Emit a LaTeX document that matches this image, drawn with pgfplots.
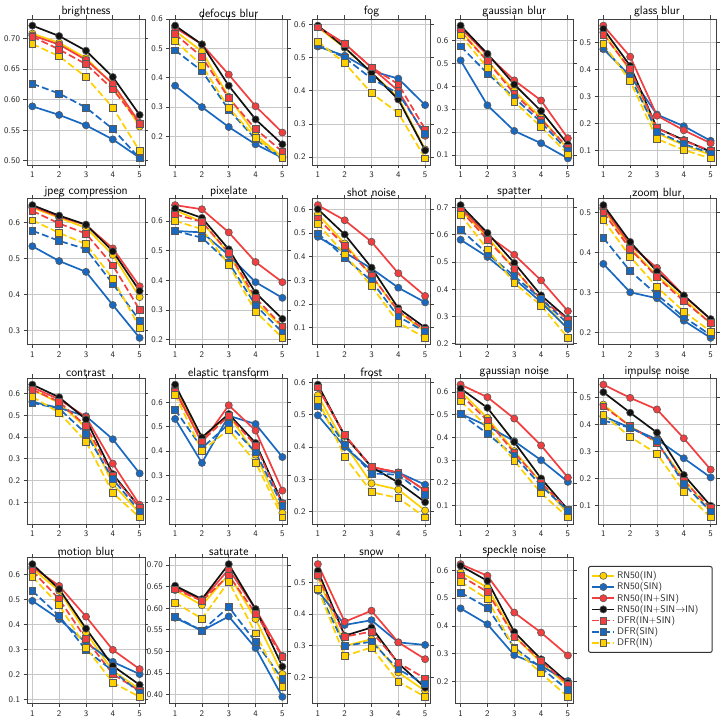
\documentclass[border=0pt]{standalone}
\usepackage{pgfplots}
\usepackage{pgfplotstable}
\pgfplotsset{compat=1.18}
\definecolor{cy}{RGB}{255,208,0}
\definecolor{cb}{RGB}{24,104,192}
\definecolor{cr}{RGB}{242,62,62}
\definecolor{ck}{RGB}{18,18,18}
\newcommand{\legtxt}[1]{\makebox[90pt][l]{#1}}

\pgfplotstableread{
x Y B R K RS BS YS
1 0.708 0.589 0.705 0.721 0.703 0.626 0.691
2 0.693 0.575 0.690 0.704 0.682 0.610 0.671
3 0.668 0.558 0.665 0.680 0.658 0.587 0.637
4 0.625 0.535 0.626 0.637 0.617 0.552 0.587
5 0.556 0.505 0.562 0.575 0.561 0.504 0.516
}\tbright
\pgfplotstableread{
x Y B R K RS BS YS
1 0.560 0.373 0.571 0.578 0.549 0.494 0.526
2 0.490 0.300 0.514 0.514 0.471 0.423 0.442
3 0.335 0.232 0.411 0.373 0.331 0.291 0.297
4 0.205 0.173 0.303 0.258 0.225 0.190 0.196
5 0.130 0.127 0.213 0.173 0.148 0.125 0.127
}\tdefocus
\pgfplotstableread{
x Y B R K RS BS YS
1 0.592 0.534 0.594 0.597 0.592 0.540 0.549
2 0.530 0.506 0.543 0.531 0.541 0.500 0.484
3 0.455 0.460 0.470 0.455 0.471 0.437 0.393
4 0.380 0.437 0.400 0.374 0.420 0.392 0.333
5 0.223 0.357 0.264 0.220 0.284 0.269 0.196
}\tfog
\pgfplotstableread{
x Y B R K RS BS YS
1 0.644 0.513 0.655 0.665 0.638 0.575 0.623
2 0.510 0.317 0.536 0.542 0.510 0.456 0.481
3 0.380 0.205 0.426 0.408 0.367 0.350 0.333
4 0.263 0.151 0.338 0.292 0.256 0.243 0.222
5 0.125 0.085 0.173 0.146 0.132 0.117 0.103
}\tgblur
\pgfplotstableread{
x Y B R K RS BS YS
1 0.537 0.475 0.562 0.550 0.529 0.481 0.494
2 0.394 0.376 0.447 0.413 0.401 0.372 0.357
3 0.164 0.233 0.229 0.183 0.183 0.170 0.143
4 0.120 0.190 0.175 0.139 0.136 0.124 0.102
5 0.084 0.136 0.127 0.096 0.100 0.090 0.071
}\tglass
\pgfplotstableread{
x Y B R K RS BS YS
1 0.641 0.534 0.644 0.648 0.632 0.577 0.606
2 0.613 0.493 0.616 0.619 0.597 0.549 0.571
3 0.585 0.463 0.593 0.594 0.569 0.526 0.540
4 0.510 0.371 0.528 0.520 0.481 0.430 0.444
5 0.393 0.280 0.423 0.410 0.358 0.328 0.309
}\tjpeg
\pgfplotstableread{
x Y B R K RS BS YS
1 0.637 0.567 0.654 0.643 0.623 0.567 0.601
2 0.598 0.562 0.640 0.611 0.598 0.544 0.573
3 0.490 0.485 0.562 0.505 0.493 0.460 0.453
4 0.327 0.394 0.462 0.358 0.341 0.316 0.295
5 0.242 0.341 0.394 0.270 0.245 0.225 0.206
}\tpix
\pgfplotstableread{
x Y B R K RS BS YS
1 0.580 0.484 0.618 0.601 0.562 0.499 0.539
2 0.456 0.418 0.554 0.494 0.446 0.396 0.410
3 0.320 0.350 0.463 0.354 0.320 0.297 0.276
4 0.168 0.269 0.330 0.182 0.170 0.147 0.121
5 0.083 0.207 0.234 0.100 0.090 0.083 0.057
}\tshot
\pgfplotstableread{
x Y B R K RS BS YS
1 0.690 0.582 0.699 0.709 0.690 0.619 0.674
2 0.592 0.519 0.598 0.607 0.582 0.531 0.547
3 0.476 0.439 0.527 0.497 0.476 0.449 0.423
4 0.360 0.353 0.433 0.378 0.363 0.365 0.341
5 0.255 0.255 0.320 0.292 0.290 0.274 0.222
}\tspat
\pgfplotstableread{
x Y B R K RS BS YS
1 0.508 0.371 0.512 0.518 0.500 0.436 0.481
2 0.411 0.300 0.418 0.426 0.408 0.353 0.389
3 0.342 0.285 0.361 0.352 0.338 0.294 0.313
4 0.284 0.229 0.292 0.292 0.278 0.238 0.252
5 0.221 0.186 0.232 0.233 0.223 0.193 0.202
}\tzoom
\pgfplotstableread{
x Y B R K RS BS YS
1 0.618 0.562 0.629 0.641 0.618 0.557 0.585
2 0.557 0.534 0.573 0.583 0.562 0.531 0.512
3 0.443 0.496 0.492 0.481 0.451 0.416 0.379
4 0.184 0.390 0.278 0.230 0.222 0.207 0.143
5 0.051 0.233 0.089 0.077 0.077 0.059 0.031
}\tcontrast
\pgfplotstableread{
x Y B R K RS BS YS
1 0.662 0.532 0.652 0.673 0.645 0.570 0.632
2 0.453 0.351 0.433 0.456 0.440 0.412 0.401
3 0.549 0.545 0.588 0.552 0.545 0.511 0.488
4 0.385 0.511 0.484 0.433 0.423 0.395 0.353
5 0.145 0.375 0.237 0.186 0.182 0.175 0.127
}\telastic
\pgfplotstableread{
x Y B R K RS BS YS
1 0.560 0.498 0.583 0.593 0.585 0.528 0.547
2 0.408 0.400 0.437 0.434 0.437 0.408 0.370
3 0.287 0.328 0.338 0.338 0.338 0.318 0.260
4 0.268 0.321 0.321 0.290 0.321 0.314 0.242
5 0.203 0.283 0.265 0.229 0.265 0.251 0.182
}\tfrost
\pgfplotstableread{
x Y B R K RS BS YS
1 0.603 0.504 0.632 0.615 0.588 0.504 0.559
2 0.486 0.450 0.577 0.530 0.475 0.416 0.447
3 0.340 0.384 0.483 0.380 0.333 0.319 0.297
4 0.202 0.300 0.365 0.220 0.202 0.188 0.155
5 0.064 0.205 0.224 0.083 0.083 0.078 0.049
}\tgnoise
\pgfplotstableread{
x Y B R K RS BS YS
1 0.475 0.432 0.549 0.521 0.469 0.416 0.438
2 0.395 0.389 0.500 0.445 0.395 0.389 0.355
3 0.334 0.346 0.457 0.371 0.334 0.340 0.293
4 0.200 0.276 0.350 0.214 0.192 0.180 0.153
5 0.075 0.205 0.234 0.100 0.091 0.079 0.057
}\timpulse
\pgfplotstableread{
x Y B R K RS BS YS
1 0.625 0.496 0.632 0.643 0.616 0.536 0.592
2 0.536 0.423 0.556 0.543 0.503 0.436 0.479
3 0.369 0.329 0.433 0.385 0.343 0.299 0.309
4 0.216 0.252 0.300 0.236 0.203 0.216 0.169
5 0.143 0.203 0.223 0.160 0.136 0.129 0.112
}\tmotion
\pgfplotstableread{
x Y B R K RS BS YS
1 0.642 0.578 0.648 0.652 0.644 0.581 0.613
2 0.607 0.548 0.618 0.621 0.617 0.548 0.576
3 0.678 0.581 0.690 0.702 0.676 0.603 0.662
4 0.575 0.508 0.598 0.598 0.588 0.522 0.542
5 0.448 0.395 0.490 0.465 0.488 0.436 0.418
}\tsat
\pgfplotstableread{
x Y B R K RS BS YS
1 0.519 0.474 0.558 0.537 0.523 0.479 0.481
2 0.300 0.366 0.376 0.332 0.329 0.300 0.268
3 0.321 0.381 0.411 0.358 0.345 0.313 0.295
4 0.216 0.311 0.311 0.245 0.247 0.226 0.187
5 0.158 0.303 0.258 0.168 0.197 0.179 0.139
}\tsnow
\pgfplotstableread{
x Y B R K RS BS YS
1 0.592 0.463 0.622 0.616 0.580 0.520 0.559
2 0.538 0.406 0.580 0.562 0.522 0.466 0.496
3 0.364 0.295 0.448 0.378 0.362 0.322 0.319
4 0.268 0.256 0.376 0.280 0.274 0.250 0.230
5 0.184 0.202 0.294 0.196 0.190 0.169 0.145
}\tspeckle

\pgfplotsset{
  panel/.style={
    scale only axis, width=118pt, height=146pt, anchor=north west,
    xmin=0.8, xmax=5.2, enlarge x limits=false, enlarge y limits=0.05,
    xtick={1,2,3,4,5},
    grid=major, grid style={black!22, line width=0.8pt},
    axis line style={black!75, line width=0.9pt},
    tick align=outside, major tick length=3.5pt,
    tick style={black!75, line width=0.8pt},
    /pgf/number format/assume math mode=true,
    ticklabel style={font=\sffamily\fontsize{8.6}{10}\selectfont, text=black!85},
    yticklabel style={/pgf/number format/fixed, /pgf/number format/precision=2},
    title style={font=\sffamily\fontsize{12}{14}\selectfont, yshift=-8pt},
    legend image code/.code={\draw[mark repeat=2,mark phase=2] plot coordinates {(0pt,0pt) (11pt,0pt) (22pt,0pt)};},
  },
  base/.style={line width=1.7pt, mark size=3.6pt},
  sq/.style={line width=1.7pt, mark size=3.4pt, mark=square*, dash pattern=on 7pt off 3.2pt},
  pY/.style={base, cy, mark=*, mark options={fill=cy, draw=black!65, line width=0.6pt, solid}},
  pB/.style={base, cb, mark=*, mark options={fill=cb, draw=black!65, line width=0.6pt, solid}},
  pR/.style={base, cr, mark=*, mark options={fill=cr, draw=black!65, line width=0.6pt, solid}},
  pK/.style={base, ck, mark=*, mark options={fill=ck, draw=black!65, line width=0.6pt, solid}},
  qR/.style={sq, cr, mark options={fill=cr, draw=black!65, line width=0.6pt, solid}},
  qB/.style={sq, cb, mark options={fill=cb, draw=black!65, line width=0.6pt, solid}},
  qY/.style={sq, cy, mark options={fill=cy, draw=black!65, line width=0.6pt, solid}},
}

\newcommand{\panel}[6]{%
\begin{axis}[panel, at={(#1)}, title={#2}, ytick={#4}, #5, #6]
\addplot[pY] table[x=x,y=Y]{#3};
\addplot[pB] table[x=x,y=B]{#3};
\addplot[pR] table[x=x,y=R]{#3};
\addplot[pK] table[x=x,y=K]{#3};
\addplot[qR] table[x=x,y=RS]{#3};
\addplot[qB] table[x=x,y=BS]{#3};
\addplot[qY] table[x=x,y=YS]{#3};
\end{axis}}

\begin{document}
\begin{tikzpicture}[x=1pt,y=1pt]
\useasboundingbox (0,0) rectangle (723,723);
\panel{27pt,704pt}{brightness}{\tbright}{0.50,0.55,0.60,0.65,0.70}{yticklabel style={/pgf/number format/fixed zerofill}}{}
\panel{169.75pt,704pt}{defocus blur}{\tdefocus}{0.1,0.2,0.3,0.4,0.5,0.6}{}{}
\panel{312.5pt,704pt}{fog}{\tfog}{0.2,0.3,0.4,0.5,0.6}{}{}
\panel{455.25pt,704pt}{gaussian blur}{\tgblur}{0.1,0.2,0.3,0.4,0.5,0.6}{}{}
\panel{598pt,704pt}{glass blur}{\tglass}{0.1,0.2,0.3,0.4,0.5}{}{}
\panel{27pt,524.5pt}{jpeg compression}{\tjpeg}{0.3,0.4,0.5,0.6}{}{}
\panel{169.75pt,524.5pt}{pixelate}{\tpix}{0.2,0.3,0.4,0.5,0.6}{}{}
\panel{312.5pt,524.5pt}{shot noise}{\tshot}{0.1,0.2,0.3,0.4,0.5,0.6}{}{}
\panel{455.25pt,524.5pt}{spatter}{\tspat}{0.2,0.3,0.4,0.5,0.6,0.7}{}{}
\panel{598pt,524.5pt}{zoom blur}{\tzoom}{0.2,0.3,0.4,0.5}{}{}
\panel{27pt,345pt}{contrast}{\tcontrast}{0.1,0.2,0.3,0.4,0.5,0.6}{}{}
\panel{169.75pt,345pt}{elastic transform}{\telastic}{0.2,0.3,0.4,0.5,0.6}{}{}
\panel{312.5pt,345pt}{frost}{\tfrost}{0.2,0.3,0.4,0.5,0.6}{}{}
\panel{455.25pt,345pt}{gaussian noise}{\tgnoise}{0.1,0.2,0.3,0.4,0.5,0.6}{}{}
\panel{598pt,345pt}{impulse noise}{\timpulse}{0.1,0.2,0.3,0.4,0.5}{}{}
\panel{27pt,165.5pt}{motion blur}{\tmotion}{0.1,0.2,0.3,0.4,0.5,0.6}{}{}
\panel{169.75pt,165.5pt}{saturate}{\tsat}{0.40,0.45,0.50,0.55,0.60,0.65,0.70}{yticklabel style={/pgf/number format/fixed zerofill}}{}
\panel{312.5pt,165.5pt}{snow}{\tsnow}{0.2,0.3,0.4,0.5}{}{}
\panel{455.25pt,165.5pt}{speckle noise}{\tspeckle}{0.2,0.3,0.4,0.5,0.6}{}{legend entries={\legtxt{RN50(IN)},\legtxt{RN50(SIN)},\legtxt{RN50(IN+SIN)},\legtxt{RN50(IN+SIN$\rightarrow$IN)},\legtxt{DFR(IN+SIN)},\legtxt{DFR(SIN)},\legtxt{DFR(IN)}},
 legend style={at={(1.125,0.942)}, anchor=north west, draw=black!80, line width=1pt, rounded corners=2pt, font=\sffamily\fontsize{9.6}{11}\selectfont, text=black!85, row sep=-1.5pt, inner sep=3pt}}
\end{tikzpicture}
\end{document}
